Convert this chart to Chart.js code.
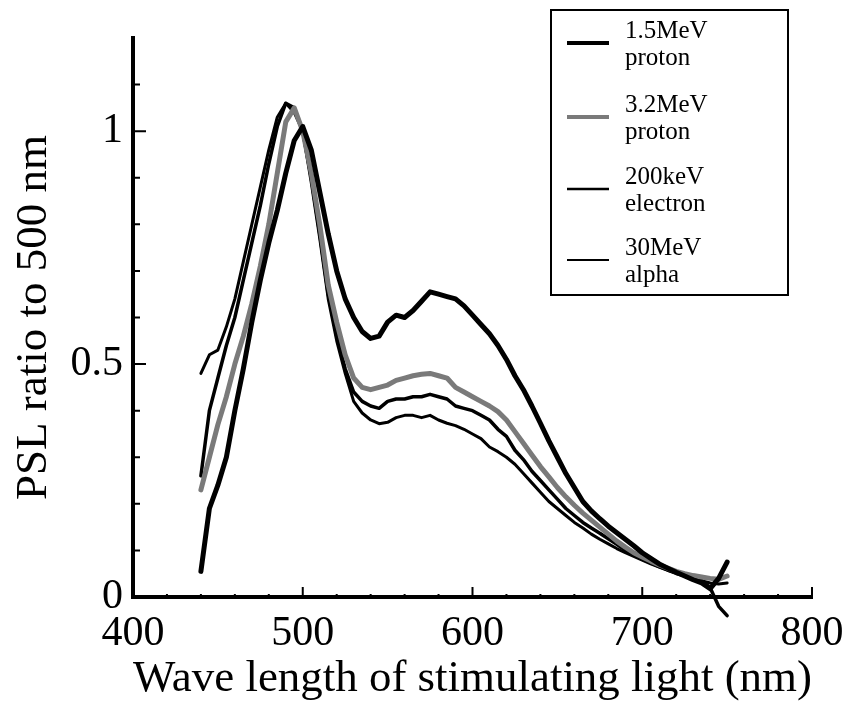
<!DOCTYPE html>
<html>
<head>
<meta charset="utf-8">
<script src="https://cdn.jsdelivr.net/npm/chart.js@4.4.1/dist/chart.umd.min.js"></script>
<style>
  body { margin: 0; background: #fff; }
  #wrap { width: 847px; height: 702px; }
</style>
</head>
<body>
<div id="wrap"><canvas id="pslChart"></canvas></div>
<script>
// wavelength of stimulating light (nm)
var wavelengths = [440, 445, 450, 455, 460, 465, 470, 475, 480, 485, 490, 495, 500, 505, 510, 515, 520, 525, 530, 535,
  540, 545, 550, 555, 560, 565, 570, 575, 580, 585, 590, 595, 600, 605, 610, 615, 620, 625, 630, 635,
  640, 645, 650, 655, 660, 665, 670, 675, 680, 685, 690, 695, 700, 705, 710, 715, 720, 725, 730, 735,
  740, 745, 750];

// PSL ratio to 500 nm
var proton15 = [0.055, 0.19, 0.24, 0.30, 0.40, 0.49, 0.59, 0.68, 0.76, 0.83, 0.91, 0.98, 1.01, 0.96, 0.87, 0.78, 0.70, 0.64, 0.60, 0.57,
  0.555, 0.56, 0.59, 0.605, 0.60, 0.615, 0.635, 0.655, 0.65, 0.645, 0.64, 0.625, 0.605, 0.585, 0.565, 0.54, 0.51, 0.475, 0.445, 0.41,
  0.373, 0.335, 0.30, 0.265, 0.235, 0.205, 0.185, 0.168, 0.152, 0.138, 0.124, 0.11, 0.095, 0.083, 0.071, 0.062, 0.053, 0.045, 0.037, 0.03,
  0.018, 0.04, 0.075];
var proton32 = [0.23, 0.30, 0.37, 0.43, 0.50, 0.56, 0.63, 0.71, 0.80, 0.91, 1.02, 1.05, 1.0, 0.91, 0.80, 0.67, 0.59, 0.52, 0.47, 0.45,
  0.445, 0.45, 0.455, 0.465, 0.47, 0.475, 0.478, 0.48, 0.475, 0.47, 0.45, 0.44, 0.43, 0.42, 0.41, 0.398, 0.38, 0.355, 0.33, 0.305,
  0.28, 0.258, 0.235, 0.215, 0.197, 0.18, 0.165, 0.15, 0.135, 0.12, 0.107, 0.095, 0.086, 0.077, 0.069, 0.062, 0.055, 0.05, 0.046, 0.043,
  0.04, 0.038, 0.045];
var electron200 = [0.26, 0.40, 0.47, 0.54, 0.60, 0.68, 0.76, 0.84, 0.93, 1.01, 1.06, 1.05, 1.0, 0.90, 0.78, 0.65, 0.56, 0.49, 0.44, 0.42,
  0.41, 0.405, 0.42, 0.425, 0.425, 0.43, 0.43, 0.435, 0.43, 0.425, 0.41, 0.405, 0.40, 0.39, 0.38, 0.36, 0.345, 0.315, 0.295, 0.27,
  0.25, 0.23, 0.21, 0.19, 0.175, 0.16, 0.148, 0.137, 0.125, 0.113, 0.10, 0.09, 0.081, 0.073, 0.065, 0.058, 0.052, 0.047, 0.042, 0.035,
  0.02, -0.02, -0.04];
var alpha30 = [0.48, 0.52, 0.53, 0.58, 0.64, 0.72, 0.80, 0.88, 0.96, 1.03, 1.06, 1.04, 1.0, 0.89, 0.77, 0.64, 0.55, 0.48, 0.42, 0.395,
  0.38, 0.372, 0.375, 0.385, 0.39, 0.39, 0.385, 0.39, 0.38, 0.373, 0.368, 0.36, 0.35, 0.34, 0.322, 0.312, 0.30, 0.285, 0.265, 0.245,
  0.225, 0.205, 0.19, 0.175, 0.16, 0.148, 0.135, 0.124, 0.114, 0.104, 0.095, 0.087, 0.079, 0.071, 0.064, 0.057, 0.05, 0.045, 0.04, 0.035,
  0.03, 0.028, 0.03];

var xTicks = [400, 500, 600, 700, 800];
var yTicks = [0, 0.5, 1];
var legendText = [['1.5MeV', 'proton'], ['3.2MeV', 'proton'], ['200keV', 'electron'], ['30MeV', 'alpha']];

var serif = "'Liberation Serif', 'Times New Roman', serif";

function toPoints(ys) {
  return wavelengths.map(function (w, i) { return { x: w, y: ys[i] }; });
}

// ticks on the inside of both axes
var inwardTicks = {
  id: 'inwardTicks',
  afterDraw: function (chart) {
    var ctx = chart.ctx, xs = chart.scales.x, ys = chart.scales.y;
    var left = chart.chartArea.left, bottom = chart.chartArea.bottom;
    ctx.save();
    ctx.strokeStyle = '#000';
    ctx.lineWidth = 2;
    ctx.beginPath();
    for (var i = 1; i <= 11; i++) {
      var py = ys.getPixelForValue(i / 10);
      var len = (i % 5 === 0) ? 13 : 7;
      ctx.moveTo(left, py);
      ctx.lineTo(left + len, py);
    }
    for (var w = 420; w <= 800; w += 20) {
      var px = xs.getPixelForValue(w);
      var l2 = (w % 100 === 0) ? 10 : 3;
      ctx.moveTo(px, bottom);
      ctx.lineTo(px, bottom - l2);
    }
    ctx.stroke();
    ctx.restore();
  }
};

// boxed legend with two-line labels
var boxLegend = {
  id: 'boxLegend',
  afterDraw: function (chart) {
    var ctx = chart.ctx;
    ctx.save();
    ctx.strokeStyle = '#000';
    ctx.lineWidth = 2;
    ctx.strokeRect(551, 10, 237, 285);
    ctx.font = '25px ' + serif;
    ctx.fillStyle = '#000';
    ctx.textBaseline = 'middle';
    var rows = [43, 117, 189, 260];
    chart.data.datasets.forEach(function (ds, i) {
      var y = rows[i];
      ctx.beginPath();
      ctx.strokeStyle = ds.borderColor;
      ctx.lineWidth = ds.borderWidth - 1;
      ctx.moveTo(567, y);
      ctx.lineTo(609, y);
      ctx.stroke();
      ctx.fillText(legendText[i][0], 625, y - 12);
      ctx.fillText(legendText[i][1], 625, y + 15);
    });
    ctx.restore();
  }
};

var data = {
  datasets: [{
    label: '1.5MeV proton',
    data: toPoints(proton15),
    borderColor: '#000',
    borderWidth: 5
  }, {
    label: '3.2MeV proton',
    data: toPoints(proton32),
    borderColor: '#7a7a7a',
    borderWidth: 5
  }, {
    label: '200keV electron',
    data: toPoints(electron200),
    borderColor: '#000',
    borderWidth: 3.5
  }, {
    label: '30MeV alpha',
    data: toPoints(alpha30),
    borderColor: '#000',
    borderWidth: 3
  }]
};

var options = {
  responsive: true,
  maintainAspectRatio: false,
  animation: false,
  layout: { padding: { top: 38, right: 35, left: 0, bottom: 0 } },
  elements: {
    point: { radius: 0 },
    line: { tension: 0, fill: false, borderCapStyle: 'round', borderJoinStyle: 'round' }
  },
  datasets: { line: { clip: false } },
  scales: {
    x: {
      type: 'linear',
      min: 400,
      max: 800,
      afterBuildTicks: function (s) { s.ticks = xTicks.map(function (v) { return { value: v }; }); },
      afterFit: function (s) { s.height = 105; s.paddingLeft = 0; s.paddingRight = 0; },
      grid: { display: false, drawTicks: false },
      border: { display: true, color: '#000', width: 4 },
      ticks: { color: '#000', padding: 12, maxRotation: 0, font: { family: serif, size: 42 } },
      title: {
        display: true,
        text: 'Wave length of stimulating light (nm)',
        color: '#000',
        padding: { top: 0, bottom: 0 },
        font: { family: serif, size: 45, lineHeight: 1 }
      }
    },
    y: {
      min: 0,
      max: 1.2,
      afterBuildTicks: function (s) { s.ticks = yTicks.map(function (v) { return { value: v }; }); },
      afterFit: function (s) { s.width = 133; },
      grid: { display: false, drawTicks: false },
      border: { display: true, color: '#000', width: 4 },
      ticks: {
        color: '#000',
        padding: 10,
        font: { family: serif, size: 42 },
        callback: function (v) { return String(v); }
      },
      title: {
        display: true,
        text: 'PSL ratio to 500 nm',
        color: '#000',
        padding: { top: 7, bottom: 0 },
        font: { family: serif, size: 45 }
      }
    }
  },
  plugins: {
    legend: { display: false },
    tooltip: { enabled: false }
  }
};

var ctx = document.getElementById('pslChart').getContext('2d');
var pslChart = new Chart(ctx, {
  type: 'line',
  data: data,
  options: options,
  plugins: [inwardTicks, boxLegend]
});
</script>
</body>
</html>
